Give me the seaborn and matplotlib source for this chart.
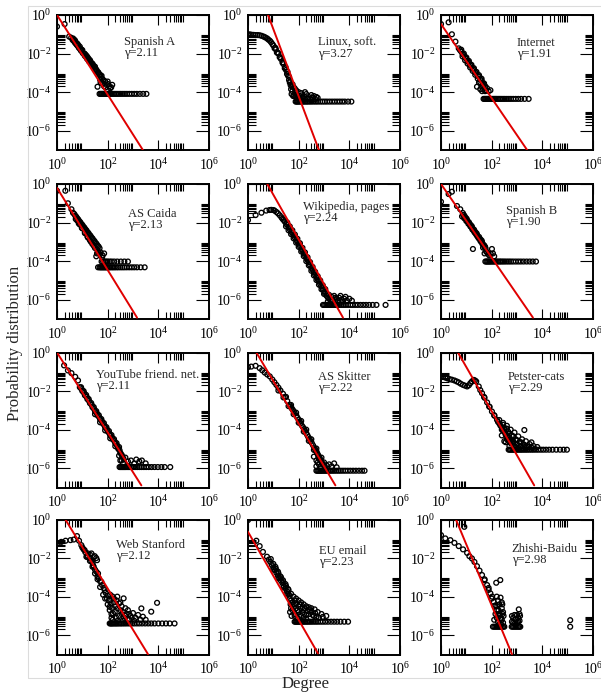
import numpy as np
import matplotlib.pyplot as plt
import seaborn as sns
from matplotlib.ticker import FixedLocator, FuncFormatter, NullFormatter
from matplotlib.patches import Rectangle

sns.set_theme(style='ticks')
plt.rcParams['font.family'] = ['Liberation Serif', 'DejaVu Serif']
plt.rcParams['mathtext.fontset'] = 'custom'
plt.rcParams['mathtext.rm'] = 'Liberation Serif'

# all values are log10(degree) / log10(probability)
names = ['Spanish A', 'Linux, soft.', 'Internet',
         'AS Caida', 'Wikipedia, pages', 'Spanish B',
         'YouTube friend. net.', 'AS Skitter', 'Petster-cats',
         'Web Stanford', 'EU email', 'Zhishi-Baidu']
gammas = ['2.11', '3.27', '1.91', '2.13', '2.24', '1.90',
          '2.11', '2.22', '2.29', '2.12', '2.23', '2.98']

# fitted power-law lines: (log k start, log p start, log k end, log p end)
fit_lines = [(0.0, 0.0, 3.39, -7.0), (0.79, 0.0, 2.80, -7.0), (0.0, -0.47, 3.4, -7.0),
             (0.0, -0.2, 3.16, -6.93), (0.76, 0.0, 3.75, -6.93), (0.0, 0.0, 3.63, -6.93),
             (0.0, 0.0, 3.33, -6.89), (0.33, 0.0, 3.45, -6.89), (0.67, 0.0, 3.68, -6.89),
             (0.33, 0.0, 3.59, -6.98), (0.0, -0.64, 2.76, -6.94), (0.59, 0.0, 2.80, -6.98)]

# --- Spanish A
sa_k = [0.00, 0.30, 0.48, 0.56, 0.62, 0.66, 0.70, 0.74, 0.78, 0.82, 0.86, 0.90, 0.94, 0.98,
        1.02, 1.06, 1.10, 1.14, 1.18, 1.22, 1.26, 1.30, 1.34, 1.38, 1.42, 1.46, 1.50, 1.54,
        1.58, 1.62, 1.66, 1.70, 1.74, 1.78, 1.84, 1.90, 1.96, 2.02, 2.10, 2.18, 1.60, 1.72, 1.86,
        0.70, 0.80, 0.90, 1.00, 1.10, 1.20, 1.30, 1.40, 1.50]
sa_p = [-0.60, -0.47, -1.12, -1.18, -1.30, -1.33, -1.42, -1.48, -1.55, -1.60, -1.70, -1.74, -1.84, -1.88,
        -1.98, -2.02, -2.12, -2.16, -2.26, -2.30, -2.40, -2.42, -2.52, -2.56, -2.66, -2.68, -2.80, -2.82,
        -2.94, -2.96, -3.08, -3.10, -3.22, -3.30, -3.38, -3.45, -3.62, -3.58, -3.80, -3.62, -3.72, -3.50, -3.70,
        -1.30, -1.48, -1.64, -1.82, -2.02, -2.18, -2.34, -2.52, -2.68]
sa_band_k = [0.64, 0.72, 0.84, 0.96, 1.08, 1.16, 1.24, 1.32, 1.44, 1.56, 1.64, 1.76, 1.82, 1.92,
             2.00, 2.06, 2.14, 1.70, 1.80]
sa_band_p = [-1.22, -1.36, -1.56, -1.78, -2.00, -2.10, -2.25, -2.40, -2.62, -2.85, -3.00, -3.15, -3.55,
             -3.75, -3.45, -3.70, -3.75, -3.35, -3.55]
sa_floor_k = [1.68, 1.72, 1.76, 1.80, 1.84, 1.88, 1.92, 1.96, 2.00, 2.05, 2.10, 2.15, 2.20, 2.26,
              2.32, 2.38, 2.45, 2.52, 2.60, 2.68, 2.76, 2.85, 2.95, 3.05, 3.15, 3.27, 3.40, 3.53]
sa_floor_p = -4.09

# --- Linux, soft.
li_k = [0.00, 0.13, 0.30, 0.46, 0.62, 0.75, 0.86, 0.96, 1.05, 1.14, 1.25, 1.36, 1.45, 1.54, 1.62, 1.68,
        1.00, 1.10, 1.20, 1.30, 1.40, 1.50, 1.58,
        1.70, 1.75, 1.80, 1.85, 1.90, 1.95, 2.00, 2.05, 2.10, 2.20, 2.30, 2.40, 2.50, 2.60, 2.70,
        1.65, 1.72, 1.78, 1.88, 1.98, 2.15, 2.35, 2.55]
li_p = [-1.00, -1.02, -1.04, -1.05, -1.12, -1.21, -1.33, -1.50, -1.73, -1.95, -2.19, -2.47, -2.76, -3.06, -3.37, -3.63,
        -1.58, -1.78, -2.00, -2.28, -2.55, -2.85, -3.15,
        -3.85, -3.95, -3.75, -4.05, -3.90, -4.15, -4.00, -4.20, -4.05, -4.20, -4.10, -4.25, -4.15, -4.20, -4.25,
        -3.50, -3.70, -4.20, -4.25, -4.30, -4.30, -4.35, -4.30]
li_band_k = [0.07, 0.22, 0.38, 0.54, 0.68, 0.80, 0.91, 1.08, 1.18, 1.28, 1.38, 1.48, 1.56, 1.62, 1.66,
             1.72, 1.82, 1.92, 2.02, 2.12, 2.25, 2.45, 2.65, 2.75, 1.76, 1.84, 2.25]
li_band_p = [-1.01, -1.03, -1.04, -1.08, -1.16, -1.27, -1.41, -1.70, -1.95, -2.20, -2.45, -2.70, -2.95, -3.20, -3.45,
             -4.10, -4.20, -4.30, -4.35, -4.30, -4.35, -4.35, -4.35, -4.30, -3.60, -3.80, -4.00]
li_floor_k = [1.88, 1.92, 1.96, 2.00, 2.05, 2.10, 2.15, 2.20, 2.26, 2.32, 2.38, 2.45, 2.52, 2.60, 2.68,
              2.76, 2.85, 2.94, 3.03, 3.12, 3.22, 3.32, 3.42, 3.52, 3.62, 3.72, 3.82, 3.95, 4.08]
li_floor_p = -4.49

# --- Internet
in_k = [0.00, 0.30, 0.43, 0.57, 0.70, 0.75, 0.80, 0.85, 0.90, 0.95, 1.00, 1.05, 1.10, 1.15, 1.20, 1.25,
        1.30, 1.35, 1.40, 1.45, 1.50, 1.55, 1.60, 1.65, 1.70, 1.75,
        0.80, 0.90, 1.00, 1.10, 1.20, 1.30, 1.40, 1.50, 1.60,
        1.42, 1.55, 1.62, 1.70, 1.78, 1.82, 1.88, 1.95]
in_p = [-0.47, -0.38, -1.00, -1.38, -1.73, -1.82, -1.90, -2.02, -2.08, -2.20, -2.28, -2.40, -2.46, -2.60, -2.65, -2.78,
        -2.84, -2.98, -3.02, -3.16, -3.20, -3.35, -3.38, -3.52, -3.55, -3.70,
        -1.80, -2.00, -2.20, -2.38, -2.58, -2.76, -2.95, -3.12, -3.30,
        -3.72, -3.85, -3.95, -3.62, -3.90, -3.80, -3.95, -3.90]
in_band_k = [0.85, 0.95, 1.05, 1.15, 1.25, 1.35, 1.45, 1.55, 1.65, 1.50, 1.60, 1.66, 1.74]
in_band_p = [-2.15, -2.35, -2.52, -2.72, -2.90, -3.10, -3.30, -3.48, -3.66, -3.50, -3.70, -3.85, -3.95]
in_floor_k = [1.68, 1.72, 1.76, 1.80, 1.84, 1.88, 1.92, 1.96, 2.00, 2.05, 2.10, 2.15, 2.20, 2.26,
              2.32, 2.38, 2.45, 2.52, 2.60, 2.68, 2.76, 2.85, 2.95, 3.05, 3.16, 3.30, 3.46]
in_floor_p = -4.35

# --- AS Caida
ac_k = [0.00, 0.33, 0.43, 0.57, 0.63, 0.68, 0.72, 0.76, 0.80, 0.84, 0.88, 0.92, 0.96, 1.00, 1.04, 1.08,
        1.12, 1.16, 1.20, 1.24, 1.28, 1.32, 1.36, 1.40, 1.44, 1.48, 1.52, 1.56, 1.60, 1.64, 1.68,
        0.80, 0.90, 1.00, 1.10, 1.20, 1.30, 1.40, 1.50, 1.55, 1.62, 1.72, 1.80, 1.86,
        1.76, 1.82, 1.88, 1.94, 2.00, 2.08, 2.16, 2.26, 2.38, 2.52, 2.66, 2.80]
ac_p = [-0.35, -0.35, -1.00, -1.31, -1.49, -1.55, -1.64, -1.70, -1.78, -1.84, -1.93, -1.98, -2.07, -2.12, -2.21, -2.26,
        -2.35, -2.40, -2.49, -2.54, -2.63, -2.68, -2.77, -2.82, -2.91, -2.96, -3.05, -3.10, -3.19, -3.24, -3.33,
        -1.90, -2.10, -2.30, -2.50, -2.72, -2.92, -3.12, -3.32, -3.75, -3.50, -3.55, -3.70, -3.60,
        -4.02, -4.02, -4.02, -4.02, -4.02, -4.02, -4.02, -4.02, -4.02, -4.02, -4.02, -4.02]
ac_band_k = [0.74, 0.86, 0.98, 1.10, 1.22, 1.34, 1.46, 1.58, 1.64, 1.70, 1.78, 1.58]
ac_band_p = [-1.82, -2.05, -2.28, -2.55, -2.78, -3.00, -3.22, -3.40, -3.55, -3.65, -3.80, -3.60]
ac_floor_k = [1.62, 1.68, 1.72, 1.76, 1.80, 1.84, 1.88, 1.92, 1.96, 2.00, 2.05, 2.10, 2.16, 2.22, 2.28,
              2.35, 2.42, 2.50, 2.58, 2.66, 2.75, 2.85, 2.95, 3.05, 3.16, 3.30, 3.46]
ac_floor_p = -4.32

# --- Wikipedia, pages
wp_k = [0.00, 0.30, 0.53, 0.72, 0.85, 0.92, 1.00, 1.05, 1.12, 1.18, 1.25, 1.32, 1.40, 1.51, 1.60, 1.71,
        1.80, 1.91, 2.00, 2.11, 2.20, 2.30, 2.40, 2.50, 2.60, 2.70, 2.80, 2.89, 2.96, 3.03, 3.10, 3.16,
        1.55, 1.65, 1.75, 1.85, 1.95, 2.05, 2.15, 2.25, 2.35, 2.45, 2.55, 2.65, 2.75, 2.85, 2.95, 3.05,
        1.50, 1.60, 1.70, 1.80, 1.90, 2.00, 2.10, 2.20, 2.30, 2.40, 2.50, 2.60, 2.70, 2.80, 2.90, 3.00,
        3.20, 3.30, 3.40, 3.50, 3.60, 3.70, 3.80, 3.90, 4.00, 4.10, 3.25, 3.35, 3.45, 3.15]
wp_p = [-1.87, -1.61, -1.49, -1.38, -1.35, -1.34, -1.35, -1.38, -1.45, -1.52, -1.62, -1.73, -1.86, -2.07, -2.24, -2.47,
        -2.66, -2.90, -3.10, -3.37, -3.58, -3.84, -4.06, -4.35, -4.58, -4.82, -5.05, -5.30, -5.48, -5.65, -5.80, -5.90,
        -2.00, -2.20, -2.40, -2.62, -2.84, -3.07, -3.31, -3.55, -3.80, -4.05, -4.30, -4.55, -4.78, -5.00, -5.25, -5.45,
        -2.20, -2.40, -2.60, -2.82, -3.04, -3.26, -3.50, -3.74, -4.00, -4.22, -4.50, -4.74, -4.98, -5.22, -5.46, -5.70,
        -5.75, -5.85, -5.80, -5.95, -5.90, -6.00, -5.95, -6.05, -5.95, -6.05, -6.00, -6.05, -6.10, -6.10]
wp_band_k = [1.55, 1.65, 1.75, 1.85, 1.95, 2.05, 2.15, 2.25, 2.35, 2.45, 2.55, 2.65, 2.75, 2.85, 2.95,
             3.05, 3.12, 3.20, 3.30, 3.45, 3.55, 3.65, 3.75, 3.85, 1.45, 1.36]
wp_band_p = [-2.12, -2.35, -2.55, -2.78, -3.00, -3.22, -3.46, -3.70, -3.95, -4.20, -4.45, -4.70, -4.95, -5.18, -5.40,
             -5.60, -5.70, -5.95, -6.05, -5.90, -6.05, -5.80, -6.10, -5.85, -1.95, -1.80]
wp_floor_k = [2.96, 3.00, 3.05, 3.10, 3.15, 3.20, 3.25, 3.30, 3.36, 3.42, 3.48, 3.55, 3.62, 3.70,
              3.78, 3.86, 3.95, 4.04, 4.13, 4.23, 4.33, 4.44, 4.55, 4.66, 4.78, 4.92, 5.07, 5.43]
wp_floor_p = -6.27

# --- Spanish B
sb_k = [0.00, 0.30, 0.43, 0.63, 0.76, 0.83, 0.88, 0.92, 0.96, 1.00, 1.04, 1.08, 1.12, 1.16, 1.20, 1.24,
        1.28, 1.32, 1.36, 1.40, 1.44, 1.48, 1.52, 1.56, 1.60, 1.64, 1.68, 1.72, 1.76,
        0.90, 1.00, 1.10, 1.20, 1.30, 1.40, 1.50, 1.60, 1.26, 2.01, 1.82, 1.90, 1.96, 2.10]
sb_p = [-0.92, -0.52, -0.40, -1.14, -1.31, -1.68, -1.62, -1.78, -1.78, -1.92, -1.92, -2.06, -2.08, -2.20, -2.24, -2.36,
        -2.40, -2.50, -2.56, -2.64, -2.72, -2.80, -2.86, -2.96, -3.02, -3.12, -3.16, -3.28, -3.34,
        -1.60, -1.78, -1.98, -2.16, -2.36, -2.55, -2.74, -2.92, -3.37, -3.37, -3.55, -3.70, -3.62, -3.75]
sb_band_k = [0.86, 0.94, 1.02, 1.14, 1.22, 1.34, 1.42, 1.54, 1.62, 1.70, 1.74, 1.66, 1.78, 1.86, 2.05, 1.72]
sb_band_p = [-1.50, -1.68, -1.84, -2.08, -2.22, -2.46, -2.62, -2.84, -3.00, -3.18, -3.25, -3.30, -3.50, -3.62,
             -3.60, -3.60]
sb_floor_k = [1.75, 1.79, 1.83, 1.87, 1.91, 1.95, 2.00, 2.05, 2.10, 2.15, 2.20, 2.26, 2.32, 2.38,
              2.45, 2.52, 2.60, 2.68, 2.76, 2.85, 2.95, 3.05, 3.15, 3.26, 3.38, 3.50, 3.62, 3.75]
sb_floor_p = -4.02

# --- YouTube friend. net.
yt_k = [0.28, 0.43, 0.57, 0.72, 0.83,
        0.90, 1.00, 1.10, 1.20, 1.30, 1.40, 1.50, 1.60, 1.70, 1.80, 1.90, 2.00, 2.10, 2.20, 2.30, 2.40, 2.47,
        0.95, 1.05, 1.15, 1.25, 1.35, 1.45, 1.55, 1.65, 1.75, 1.85, 1.95, 2.05, 2.15, 2.25, 2.35, 2.45,
        1.50, 1.70, 1.90, 2.10, 2.30,
        2.55, 2.62, 2.70, 2.80, 2.92, 3.05, 3.13, 3.25, 3.35, 3.50, 2.50, 2.60]
yt_p = [-0.67, -0.93, -1.07, -1.26, -1.45,
        -1.80, -2.00, -2.22, -2.42, -2.63, -2.84, -3.05, -3.26, -3.46, -3.67, -3.88, -4.09, -4.30, -4.50, -4.71, -4.92, -5.07,
        -1.80, -2.00, -2.20, -2.41, -2.62, -2.83, -3.04, -3.25, -3.45, -3.66, -3.87, -4.07, -4.28, -4.49, -4.70, -4.90,
        -3.20, -3.62, -4.04, -4.45, -4.86,
        -5.30, -5.50, -5.45, -5.65, -5.60, -5.75, -5.55, -5.65, -5.60, -5.75, -5.60, -5.75]
yt_band_k = [0.97, 1.07, 1.17, 1.27, 1.37, 1.47, 1.57, 1.67, 1.77, 1.87, 1.97, 2.07, 2.17, 2.27, 2.37,
             2.42, 2.50, 2.58, 2.45, 2.55]
yt_band_p = [-1.90, -2.10, -2.30, -2.52, -2.72, -2.94, -3.15, -3.36, -3.56, -3.78, -3.98, -4.20, -4.40, -4.60, -4.82,
             -5.00, -5.20, -5.40, -5.35, -5.60]
yt_floor_k = [2.47, 2.51, 2.55, 2.59, 2.63, 2.67, 2.71, 2.76, 2.81, 2.86, 2.92, 2.98, 3.04, 3.11,
              3.18, 3.26, 3.34, 3.43, 3.52, 3.62, 3.73, 3.85, 3.98, 4.12, 4.25, 4.47]
yt_floor_p = -5.94

# --- AS Skitter
sk_k = [0.00, 0.13, 0.30, 0.46, 0.56, 0.66, 0.76, 0.86, 0.96, 1.04, 1.12, 1.20, 1.28, 1.38, 1.46, 1.55,
        1.64, 1.72, 1.80, 1.91, 2.00, 2.08, 2.17, 2.25, 2.34, 2.43, 2.52, 2.63, 2.70, 2.76, 2.82, 2.89, 2.95, 3.00,
        1.20, 1.40, 1.60, 1.80, 2.00, 2.20, 2.40, 2.60, 2.80,
        1.50, 1.70, 1.90, 2.10, 2.30, 2.50, 2.70, 2.90,
        2.70, 2.85, 3.00, 3.10, 3.20, 3.30, 3.40, 3.50, 2.75, 3.05]
sk_p = [-0.76, -0.73, -0.69, -0.81, -0.92, -1.04, -1.14, -1.24, -1.40, -1.54, -1.68, -1.82, -1.97, -2.14, -2.31, -2.52,
        -2.71, -2.88, -3.04, -3.28, -3.48, -3.67, -3.87, -4.06, -4.28, -4.49, -4.70, -4.96, -5.13, -5.30, -5.45, -5.65, -5.80, -5.85,
        -1.97, -2.33, -2.78, -3.20, -3.64, -4.10, -4.58, -5.05, -5.52,
        -2.30, -2.72, -3.12, -3.55, -4.00, -4.50, -4.98, -5.45,
        -5.90, -5.95, -5.70, -5.85, -5.80, -5.90, -5.75, -5.95, -5.70, -6.00]
sk_band_k = [2.04, 2.12, 2.21, 2.30, 2.38, 2.47, 2.57, 2.66, 2.73, 2.79, 2.86, 2.92, 1.84, 1.95, 1.68, 1.76,
             2.60, 2.70, 2.80]
sk_band_p = [-3.58, -3.78, -3.97, -4.18, -4.38, -4.60, -4.82, -5.05, -5.22, -5.38, -5.55, -5.72, -3.14, -3.38,
             -2.80, -2.96, -5.40, -5.60, -5.80]
sk_floor_k = [2.70, 2.74, 2.78, 2.82, 2.86, 2.90, 2.95, 3.00, 3.05, 3.10, 3.16, 3.22, 3.28, 3.35,
              3.42, 3.50, 3.58, 3.66, 3.75, 3.84, 3.94, 4.04, 4.15, 4.26, 4.38, 4.50, 4.60]
sk_floor_p = -6.13

# --- Petster-cats
pc_k = [0.00, 0.17, 0.34, 0.53, 0.70, 0.87, 1.03, 1.16, 1.29, 1.39, 1.49, 1.62, 1.82, 2.01, 2.21, 2.41, 2.61, 2.80,
        0.08, 0.25, 0.43, 0.62, 0.78, 0.95, 1.10, 1.22, 1.34,
        1.55, 1.72, 1.92, 2.11, 2.31, 2.51, 2.71,
        2.30, 2.45, 2.60, 2.75, 2.90, 3.05, 3.20, 3.35, 3.50, 3.65, 3.80,
        2.40, 2.55, 2.70, 2.85, 3.00, 3.15, 3.30, 2.50, 2.65, 2.80, 2.95, 3.10, 3.25, 3.40, 2.90, 2.75,
        2.60, 3.60, 3.70, 3.29, 3.57]
pc_p = [-1.24, -1.30, -1.38, -1.45, -1.55, -1.68, -1.76, -1.59, -1.42, -1.50, -1.76, -2.11, -2.59, -3.06, -3.49, -3.92, -4.35, -4.70,
        -1.26, -1.34, -1.41, -1.50, -1.62, -1.72, -1.70, -1.50, -1.45,
        -1.95, -2.35, -2.82, -3.28, -3.70, -4.12, -4.55,
        -3.50, -3.65, -3.80, -4.00, -4.15, -4.35, -4.50, -4.60, -4.75, -4.85, -4.90,
        -4.00, -4.20, -4.40, -4.60, -4.75, -4.85, -4.90, -3.90, -4.10, -4.30, -4.50, -4.65, -4.75, -4.85, -4.85, -4.70,
        -4.50, -4.95, -5.00, -4.02, -4.66]
pc_band_k = [1.70, 1.90, 2.10, 2.25, 2.35, 2.45, 2.55, 2.65, 2.75, 2.85, 2.95, 2.45, 2.60, 2.70, 2.85, 3.00,
             3.15, 3.30, 3.45, 2.50, 2.70, 2.40, 2.55, 3.05, 3.20]
pc_band_p = [-2.30, -2.80, -3.25, -3.60, -3.80, -4.05, -4.25, -4.50, -4.60, -4.75, -4.90, -3.75, -3.95, -4.20,
             -4.35, -4.55, -4.65, -4.80, -4.90, -4.60, -4.85, -4.30, -4.65, -4.95, -4.95]
pc_floor_k = [2.67, 2.72, 2.77, 2.82, 2.87, 2.92, 2.97, 3.03, 3.09, 3.15, 3.21, 3.28, 3.35, 3.42,
              3.50, 3.58, 3.66, 3.75, 3.84, 3.94, 4.04, 4.15, 4.27, 4.40, 4.55, 4.70, 4.84, 4.97]
pc_floor_p = -5.04

# --- Web Stanford
ws_k = [0.00, 0.17, 0.34, 0.53, 0.66, 0.79, 0.87, 0.96, 1.09, 1.22, 1.16, 1.36, 1.49, 1.58, 1.42, 1.62,
        1.75, 1.88, 1.97, 2.08, 2.21,
        1.00, 1.05, 1.12, 1.20, 1.28, 1.35, 1.40, 1.45, 1.50, 1.55, 1.60, 1.65, 1.70, 1.78, 1.85, 1.92,
        2.00, 2.05, 2.12, 2.18, 1.30, 1.45, 1.55,
        2.10, 2.20, 2.25, 2.30, 2.35, 2.40, 2.45, 2.50, 2.55, 2.60, 2.63, 2.70, 2.75, 2.80, 2.90, 3.00,
        3.10, 3.20, 3.30, 2.28, 2.45, 2.65, 2.85, 3.33, 3.39, 3.72, 3.95, 3.50, 2.15, 2.35]
ws_p = [-1.24, -1.16, -1.10, -1.07, -1.04, -0.86, -1.10, -1.33, -1.59, -1.76, -1.93, -1.76, -1.90, -2.11, -2.37, -2.80,
        -3.23, -3.66, -4.09, -4.53, -4.87,
        -1.45, -1.55, -1.70, -1.88, -2.00, -2.15, -2.25, -2.45, -2.60, -2.70, -2.95, -3.05, -3.20, -3.40, -3.55, -3.80,
        -3.95, -4.20, -4.35, -4.60, -1.82, -1.95, -2.00,
        -3.90, -4.00, -4.30, -4.50, -4.20, -4.60, -4.35, -4.70, -4.50, -4.80, -4.09, -4.60, -4.90, -4.70, -5.00, -4.85,
        -5.10, -4.95, -5.20, -4.80, -5.00, -5.10, -5.20, -4.61, -5.04, -4.78, -4.32, -5.20, -4.90, -5.10]
ws_band_k = [1.82, 1.90, 2.00, 2.08, 2.15, 2.20, 2.25, 2.38, 2.50, 2.55, 2.70, 2.85, 2.95, 3.05, 2.40, 2.60,
             1.70, 1.60, 1.50, 1.40, 1.30, 1.20]
ws_band_p = [-3.90, -4.10, -4.40, -4.70, -5.10, -5.20, -4.10, -4.00, -4.30, -4.90, -5.00, -4.90, -5.10, -5.25,
             -5.25, -5.25, -3.50, -3.10, -2.80, -2.45, -2.15, -1.95]
ws_floor_k = [2.08, 2.12, 2.16, 2.20, 2.25, 2.30, 2.35, 2.40, 2.46, 2.52, 2.58, 2.65, 2.72, 2.80, 2.88,
              2.96, 3.05, 3.15, 3.25, 3.36, 3.48, 3.60, 3.72, 3.85, 4.00, 4.15, 4.30, 4.45, 4.64]
ws_floor_p = -5.39

# --- EU email
eu_k = [0.00, 0.33, 0.46, 0.59, 0.75, 0.82, 0.88, 0.94, 1.00, 1.06, 1.12, 1.18, 1.24, 1.30, 1.36, 1.42,
        1.48, 1.54, 1.60, 1.64,
        0.90, 1.00, 1.10, 1.20, 1.30, 1.40, 1.50, 1.60, 1.00, 1.20, 1.40, 1.55,
        1.70, 1.80, 1.90, 2.00, 2.10, 2.20, 2.30, 2.40, 2.50, 2.63, 2.75, 2.90, 3.09,
        1.70, 1.80, 1.90, 2.00, 2.10, 1.85, 2.00, 2.20, 2.40, 2.60, 2.20, 2.50, 2.70, 1.75, 1.95, 2.30,
        1.84, 2.15, 2.35]
eu_p = [-0.03, -1.10, -1.38, -1.68, -1.93, -2.08, -2.20, -2.35, -2.48, -2.62, -2.76, -2.90, -3.03, -3.17, -3.30, -3.45,
        -3.58, -3.72, -3.86, -3.95,
        -2.05, -2.30, -2.55, -2.78, -3.00, -3.25, -3.45, -3.65, -2.60, -3.05, -3.50, -3.85,
        -3.85, -4.00, -4.10, -4.20, -4.30, -4.40, -4.50, -4.55, -4.60, -4.66, -4.80, -4.90, -5.00,
        -4.20, -4.40, -4.60, -4.80, -5.00, -4.90, -4.50, -4.70, -4.90, -5.00, -5.05, -4.80, -5.05, -4.70, -5.10, -5.15,
        -5.00, -4.55, -4.75]
eu_band_k = [1.65, 1.68, 1.70, 1.75, 1.80, 1.85, 1.90, 1.95, 2.05, 2.05, 2.15, 2.25, 2.30, 2.45, 2.55, 2.65,
             2.80, 2.95, 1.66, 1.72, 1.08, 1.18, 1.28, 1.38, 1.48, 1.58]
eu_band_p = [-4.10, -4.40, -4.60, -4.30, -4.55, -4.20, -4.35, -4.70, -4.95, -4.40, -4.85, -4.60, -4.95, -4.70,
             -4.95, -4.85, -5.10, -5.05, -4.80, -5.00, -2.45, -2.70, -2.95, -3.15, -3.35, -3.60]
eu_floor_k = [1.84, 1.88, 1.92, 1.96, 2.00, 2.05, 2.10, 2.15, 2.20, 2.26, 2.32, 2.38, 2.45, 2.52,
              2.60, 2.68, 2.76, 2.85, 2.95, 3.05, 3.16, 3.28, 3.40, 3.52, 3.65, 3.80, 3.95]
eu_floor_p = -5.30

# --- Zhishi-Baidu
zb_k = [0.00, 0.17, 0.37, 0.53, 0.70, 0.92, 0.87, 1.03, 1.22, 1.42, 1.62, 1.82, 1.95, 2.08, 2.21, 2.34,
        1.12, 1.32, 1.52, 1.72, 1.88, 2.02, 2.15, 2.28, 2.18, 2.34,
        2.20, 2.25, 2.30, 2.35, 2.40, 2.45, 2.30, 2.40, 2.45, 2.25, 2.35, 2.20, 2.40,
        2.80, 2.85, 2.90, 2.95, 3.00, 3.05, 3.10, 3.07, 2.85, 3.00, 3.10, 2.90,
        5.10, 5.10]
zb_p = [-0.81, -0.98, -1.07, -1.21, -1.38, -0.38, -1.55, -1.73, -2.02, -2.42, -2.88, -3.40, -3.83, -4.27, -4.70, -5.13,
        -1.90, -2.20, -2.65, -3.15, -3.55, -4.00, -4.45, -4.90, -3.28, -3.14,
        -4.00, -4.20, -4.40, -4.05, -4.60, -4.80, -5.00, -5.20, -5.35, -5.30, -5.40, -4.70, -4.30,
        -5.00, -5.10, -4.95, -5.20, -4.95, -5.10, -4.90, -4.66, -5.35, -5.35, -5.25, -5.40,
        -5.22, -5.56]
zb_band_k = [2.22, 2.27, 2.32, 2.37, 2.42, 2.47, 2.28, 2.38, 2.43, 2.20, 2.15, 2.10, 2.80, 2.95, 3.05, 3.12,
             1.72, 1.88, 2.00, 2.12]
zb_band_p = [-4.50, -4.70, -4.90, -5.10, -4.40, -5.00, -5.45, -5.45, -4.90, -5.10, -4.90, -5.20, -5.30, -5.45,
             -5.30, -5.00, -3.10, -3.65, -4.10, -4.50]
zb_floor_k = [2.05, 2.10, 2.15, 2.20, 2.25, 2.30, 2.35, 2.40, 2.45, 2.50,
              2.79, 2.84, 2.89, 2.94, 2.99, 3.04, 3.09, 3.13]
zb_floor_p = -5.56

panel_points = [(sa_k + sa_band_k, sa_p + sa_band_p, sa_floor_k, sa_floor_p),
                (li_k + li_band_k, li_p + li_band_p, li_floor_k, li_floor_p),
                (in_k + in_band_k, in_p + in_band_p, in_floor_k, in_floor_p),
                (ac_k + ac_band_k, ac_p + ac_band_p, ac_floor_k, ac_floor_p),
                (wp_k + wp_band_k, wp_p + wp_band_p, wp_floor_k, wp_floor_p),
                (sb_k + sb_band_k, sb_p + sb_band_p, sb_floor_k, sb_floor_p),
                (yt_k + yt_band_k, yt_p + yt_band_p, yt_floor_k, yt_floor_p),
                (sk_k + sk_band_k, sk_p + sk_band_p, sk_floor_k, sk_floor_p),
                (pc_k + pc_band_k, pc_p + pc_band_p, pc_floor_k, pc_floor_p),
                (ws_k + ws_band_k, ws_p + ws_band_p, ws_floor_k, ws_floor_p),
                (eu_k + eu_band_k, eu_p + eu_band_p, eu_floor_k, eu_floor_p),
                (zb_k + zb_band_k, zb_p + zb_band_p, zb_floor_k, zb_floor_p)]

# label placement: (x in axes fraction, px from top)
label_pos = [(0.44, 23), (0.46, 24), (0.50, 24), (0.47, 26), (0.36, 19), (0.43, 23),
             (0.257, 19), (0.46, 20), (0.44, 20), (0.39, 21), (0.47, 28), (0.465, 25)]

W, H = 601, 693
fig = plt.figure(figsize=(W / 100, H / 100), dpi=100)

col_left = [57, 248, 441]
row_top = [15, 184, 352.5, 519.5]
pw, ph = 152, 135

def exp_fmt(v, pos):
    return r'$\mathregular{10^{%d}}$' % int(round(np.log10(v)))

x_minor = [m * 10.0 ** e for e in (0, 2, 4) for m in range(2, 10)]
y_minor = [m * 10.0 ** e for e in (-2, -4, -6) for m in range(2, 10)]

for i in range(12):
    r, c = divmod(i, 3)
    ax = fig.add_axes([col_left[c] / W, 1 - (row_top[r] + ph) / H, pw / W, ph / H])
    ax.set_xscale('log')
    ax.set_yscale('log')

    k, p, fk, fp = panel_points[i]
    xs = 10.0 ** np.array(list(k) + list(fk))
    ys = 10.0 ** np.array(list(p) + [fp] * len(fk))
    sns.scatterplot(x=xs, y=ys, ax=ax, marker='o', s=12, facecolor='none',
                    edgecolor='black', linewidth=0.95, zorder=2)

    k0, p0, k1, p1 = fit_lines[i]
    sns.lineplot(x=[10.0 ** k0, 10.0 ** k1], y=[10.0 ** p0, 10.0 ** p1], ax=ax,
                 color='#e00000', linewidth=1.4, zorder=3)

    ax.set_xlim(1, 1e6)
    ax.set_ylim(1e-7, 1)
    ax.xaxis.set_major_locator(FixedLocator([1, 1e2, 1e4, 1e6]))
    ax.xaxis.set_minor_locator(FixedLocator(x_minor))
    ax.yaxis.set_major_locator(FixedLocator([1, 1e-2, 1e-4, 1e-6]))
    ax.yaxis.set_minor_locator(FixedLocator(y_minor))
    ax.xaxis.set_major_formatter(FuncFormatter(exp_fmt))
    ax.yaxis.set_major_formatter(FuncFormatter(exp_fmt))
    ax.xaxis.set_minor_formatter(NullFormatter())
    ax.yaxis.set_minor_formatter(NullFormatter())

    ax.tick_params(which='both', direction='in', top=True, right=True, color='black',
                   labelcolor='black', labelsize=10, width=0.8)
    ax.tick_params(axis='x', which='major', length=7.2, pad=5)
    ax.tick_params(axis='x', which='minor', length=4.7)
    ax.tick_params(axis='y', which='major', length=9.4, pad=4)
    ax.tick_params(axis='y', which='minor', length=6.1)
    for sp in ax.spines.values():
        sp.set_linewidth(1.4)
        sp.set_color('black')
        sp.set_visible(True)
    ax.set_xlabel('')
    ax.set_ylabel('')

    tx, dy = label_pos[i]
    ty = 1 - (dy - 2) / ph
    ax.text(tx, ty, names[i], transform=ax.transAxes, fontsize=9, va='top', ha='left')
    ax.text(tx, ty - 11 / ph, '\u03b3=' + gammas[i], transform=ax.transAxes,
            fontsize=9, va='top', ha='left')

fig.text(15 / W, 1 - 343 / H, 'Probability distribution', rotation=90,
         ha='center', va='center', fontsize=12)
fig.text(306 / W, 1 - 684 / H, 'Degree', ha='center', va='center', fontsize=12)

fig.patches.append(Rectangle((28 / W, 1 - 678 / H), 1.0, (678 - 6) / H, transform=fig.transFigure,
                             fill=False, edgecolor='#dcdcdc', linewidth=0.8, zorder=0))

fig.savefig('out.png', dpi=100)
